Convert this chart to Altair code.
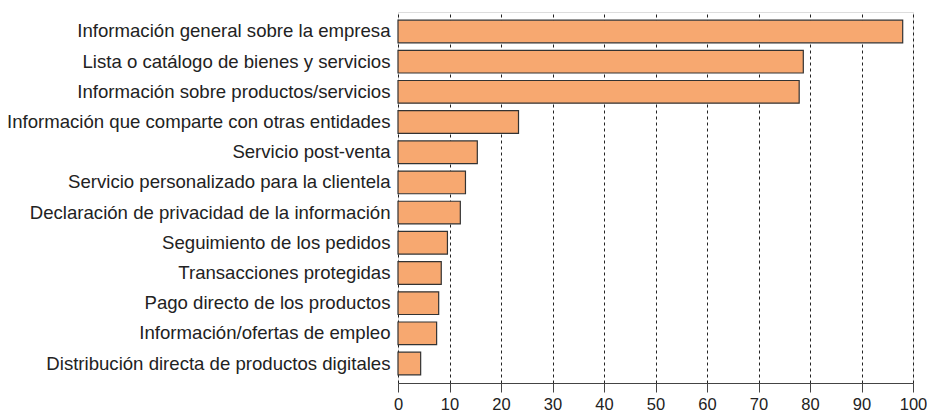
import altair as alt
import pandas as pd

categories = [
    "Información general sobre la empresa",
    "Lista o catálogo de bienes y servicios",
    "Información sobre productos/servicios",
    "Información que comparte con otras entidades",
    "Servicio post-venta",
    "Servicio personalizado para la clientela",
    "Declaración de privacidad de la información",
    "Seguimiento de los pedidos",
    "Transacciones protegidas",
    "Pago directo de los productos",
    "Información/ofertas de empleo",
    "Distribución directa de productos digitales",
]
values = [98.0, 78.7, 77.9, 23.4, 15.4, 13.1, 12.1, 9.6, 8.4, 7.9, 7.5, 4.4]
x_ticks = [0, 10, 20, 30, 40, 50, 60, 70, 80, 90, 100]

df = pd.DataFrame({"cat": categories, "val": values})

FONT = "Liberation Sans"

chart = (
    alt.Chart(df)
    .mark_bar(color="#F7A870", stroke="#333333", strokeWidth=1.2)
    .encode(
        x=alt.X(
            "val:Q",
            scale=alt.Scale(domain=[0, 100], nice=False),
            axis=alt.Axis(
                values=x_ticks,
                title=None,
                grid=True,
                gridColor="#222222",
                gridDash=[3, 3],
                gridWidth=1,
                tickSize=9,
                tickColor="#444444",
                domainColor="#444444",
                labelFontSize=16.5,
                labelFont=FONT,
                labelColor="#222222",
                labelPadding=4,
                labelFlush=False,
            ),
        ),
        y=alt.Y(
            "cat:N",
            sort=categories,
            scale=alt.Scale(paddingInner=0.25, paddingOuter=0.27),
            axis=alt.Axis(
                title=None,
                ticks=False,
                domain=False,
                labelFontSize=18.6,
                labelFont=FONT,
                labelColor="#222222",
                labelPadding=8,
                labelLimit=500,
            ),
        ),
    )
    .properties(
        width=515,
        height=371,
        autosize=alt.AutoSizeParams(type="none"),
        padding={"left": 390, "top": 4, "right": 14, "bottom": 30},
    )
    .configure_view(stroke="#444444", strokeWidth=1)
    .configure(background="white")
)

chart.save("out.html", embed_options={"renderer": "svg", "actions": False})
